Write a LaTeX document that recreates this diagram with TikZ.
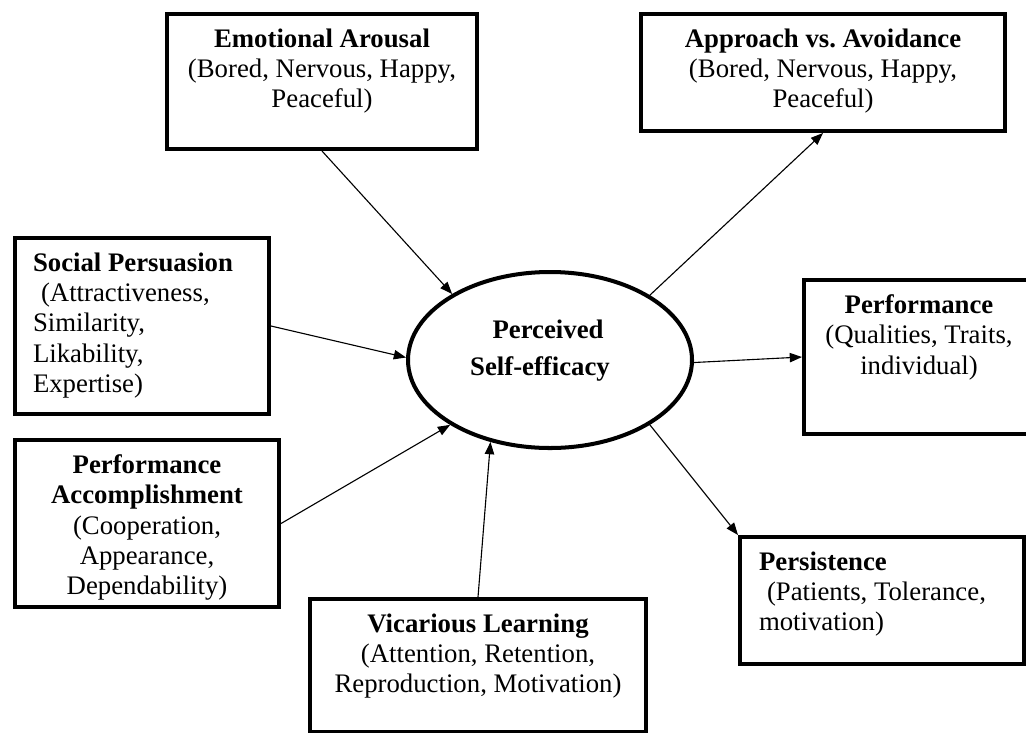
\documentclass[tikz,border=0pt]{standalone}
\usepackage{fontspec}
\setmainfont{Liberation Serif}
\definecolor{ink}{HTML}{000000}
\usepackage{tikz}
\usetikzlibrary{arrows.meta,shapes.geometric,positioning}
\newlength\px
\setlength\px{0.4484pt}
\newcommand{\boxcell}[3]{\parbox[c][#2\px][t]{#1\px}{\vspace*{6.5pt}#3}}
\tikzset{
  factor/.style={draw=ink,line width=1.8pt,inner sep=0pt,anchor=north west,
    font=\fontsize{12}{13.6}\selectfont},
  core/.style={draw=ink,line width=1.8pt,ellipse,minimum width=284\px,
    minimum height=176\px,inner sep=0pt},
  coretext/.style={font=\fontsize{12}{16.6}\selectfont\bfseries,align=center,inner sep=0pt},
  arr/.style={-{Triangle[length=5.5pt,width=4.2pt]},draw=ink,line width=0.5pt},
}

\begin{document}
\begin{tikzpicture}[x=1\px,y=-1\px]
  \useasboundingbox (0,0) rectangle (1026,732);
  \clip (0,0) rectangle (1026,732);
  % centre
  \node[core] (pse) at (550,360) {};
  \node[coretext] (psetxt) at (540,351) {\hspace*{16\px}Perceived\\Self-efficacy};
  % sources of efficacy
  \node[factor] (ea) at (165,12) {\boxcell{310}{135}{\centering\textbf{Emotional Arousal}\\(Bored, Nervous, Happy,\\Peaceful)}};
  \node[factor] (sp) at (13,236) {\boxcell{254}{176}{\raggedright\leftskip=18\px\textbf{Social Persuasion}\\\hspace*{0.3em}(Attractiveness,\\Similarity,\\Likability,\\Expertise)}};
  \node[factor] (pa) at (13,438) {\boxcell{264}{167}{\centering\textbf{Performance}\\\textbf{Accomplishment}\\(Cooperation,\\Appearance,\\Dependability)}};
  \node[factor] (vl) at (308,597) {\boxcell{336}{133}{\centering\textbf{Vicarious Learning}\\(Attention, Retention,\\Reproduction, Motivation)}};
  % outcomes
  \node[factor] (av) at (639,12) {\boxcell{364}{117}{\centering\textbf{Approach vs.\ Avoidance}\\(Bored, Nervous, Happy,\\Peaceful)}};
  \node[factor] (pf) at (802,278) {\boxcell{230}{154}{\centering\textbf{Performance}\\(Qualities, Traits,\\individual)}};
  \node[factor] (ps) at (738,535) {\boxcell{284}{127}{\raggedright\leftskip=19\px\textbf{Persistence}\\\hspace*{0.3em}(Patients, Tolerance,\\motivation)}};
  % connectors
  \draw[arr] (ea.south) -- (pse.146);
  \draw[arr] (sp.east) -- (pse.179);
  \draw[arr] (pa.east) -- (pse.213);
  \draw[arr] (vl.north) -- (pse.234);
  \draw[arr] (pse.33) -- (av.south);
  \draw[arr] (pse.359) -- (pf.west);
  \draw[arr] (pse.327) -- (ps.north west);
\end{tikzpicture}
\end{document}
